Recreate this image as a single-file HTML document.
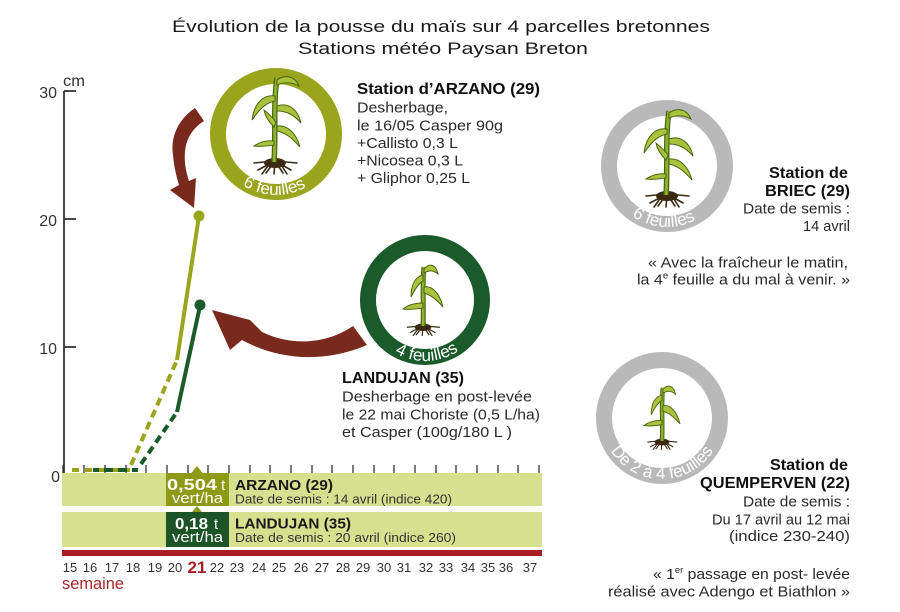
<!DOCTYPE html>
<html><head><meta charset="utf-8"><style>
html,body{margin:0;padding:0;background:#fff;}
svg{display:block;}
text{font-family:"Liberation Sans",sans-serif;}
</style></head><body>
<svg width="900" height="612" viewBox="0 0 900 612" xmlns="http://www.w3.org/2000/svg">
<defs>
 <g id="roots">
  <g stroke="#3a2a14" stroke-width="1.6" fill="none" stroke-linecap="round">
   <path d="M0,1 L-21,3 M0,1 L-17,10 M0,1 L-9,13 M0,1 L-1,14 M0,1 L8,13 M0,1 L16,10 M0,1 L22,3 M-5,3 L-13,14 M5,3 L12,14"/>
  </g>
  <ellipse cx="0" cy="3" rx="11" ry="5" fill="#3a2a14"/>
 </g>
 <g id="bigplant">
  <use href="#roots"/>
  <path d="M-1,2 C1,-25 -2,-55 2,-82" stroke="#4a6812" stroke-width="5.5" fill="none"/>
  <path d="M-1,2 C1,-25 -2,-55 2,-82" stroke="#8db12e" stroke-width="3" fill="none"/>
  <g fill="#a9c33d" stroke="#4a6410" stroke-width="1">
   <path d="M2,-80 C10,-86 20,-84 24,-74 C17,-78 9,-78 2,-75 Z"/>
   <path d="M0,-64 C-12,-66 -21,-56 -23,-40 C-16,-50 -10,-57 0,-59 Z"/>
   <path d="M2,-54 C14,-58 23,-50 26,-37 C19,-45 12,-49 2,-49 Z"/>
   <path d="M-1,-33 C-6,-38 -10,-44 -11,-50 C-6,-46 -2,-42 1,-38 Z"/>
   <path d="M2,-34 C13,-35 21,-27 25,-13 C17,-22 11,-27 2,-29 Z"/>
   <path d="M-1,-19 C-8,-20 -15,-18 -21,-14 C-14,-13 -8,-14 -1,-15 Z"/>
  </g>
 </g>
 <g id="smallplant">
  <use href="#roots" transform="scale(0.75)"/>
  <path d="M0,1 C1,-20 -1,-40 1,-58" stroke="#4a6812" stroke-width="5" fill="none"/>
  <path d="M0,1 C1,-20 -1,-40 1,-58" stroke="#8db12e" stroke-width="2.6" fill="none"/>
  <g fill="#a9c33d" stroke="#4a6410" stroke-width="1">
   <path d="M1,-56 C7,-63 13,-60 15,-51 C10,-55 6,-55 1,-52 Z"/>
   <path d="M0,-50 C-8,-48 -12,-40 -12,-28 C-8,-36 -4,-42 0,-44 Z"/>
   <path d="M1,-38 C10,-40 17,-30 20,-18 C14,-25 8,-30 1,-32 Z"/>
   <path d="M0,-22 C-8,-22 -15,-20 -20,-16 C-13,-15 -7,-16 0,-17 Z"/>
  </g>
 </g>
 <path id="arcA" d="M215,134 A61,61 0 0 0 337,134" fill="none"/>
 <path id="arcL" d="M364,300 A61,61 0 0 0 486,300" fill="none"/>
 <path id="arcB" d="M606,166 A61,61 0 0 0 728,166" fill="none"/>
 <path id="arcQ" d="M601,418 A61,61 0 0 0 723,418" fill="none"/>
</defs>

<!-- Title -->
<text x="172" y="32" font-size="17" fill="#1a1a1a" textLength="538" lengthAdjust="spacingAndGlyphs">Évolution de la pousse du maïs sur 4 parcelles bretonnes</text>
<text x="298" y="54" font-size="17" fill="#1a1a1a" textLength="290" lengthAdjust="spacingAndGlyphs">Stations météo Paysan Breton</text>

<!-- Y axis -->
<line x1="64" y1="91" x2="64" y2="473" stroke="#333" stroke-width="1.8"/>
<g stroke="#333" stroke-width="1.8">
 <line x1="64" y1="91" x2="76" y2="91"/>
 <line x1="64" y1="219" x2="76" y2="219"/>
 <line x1="64" y1="347" x2="76" y2="347"/>
</g>
<g font-size="16" fill="#333" text-anchor="end">
 <text x="57" y="98">30</text>
 <text x="57" y="226">20</text>
 <text x="57" y="354">10</text>
 <text x="60" y="482">0</text>
</g>
<text x="63" y="86" font-size="16" fill="#333" textLength="22" lengthAdjust="spacingAndGlyphs">cm</text>

<!-- X ticks -->
<g stroke="#333" stroke-width="1.3">
 <line x1="63" y1="465" x2="63" y2="473"/><line x1="84" y1="465" x2="84" y2="473"/>
 <line x1="105" y1="465" x2="105" y2="473"/><line x1="126" y1="465" x2="126" y2="473"/>
 <line x1="146" y1="465" x2="146" y2="473"/><line x1="167" y1="465" x2="167" y2="473"/>
 <line x1="188" y1="465" x2="188" y2="473"/><line x1="208" y1="465" x2="208" y2="473"/>
 <line x1="229" y1="465" x2="229" y2="473"/><line x1="250" y1="465" x2="250" y2="473"/>
 <line x1="270" y1="465" x2="270" y2="473"/><line x1="291" y1="465" x2="291" y2="473"/>
 <line x1="312" y1="465" x2="312" y2="473"/><line x1="332" y1="465" x2="332" y2="473"/>
 <line x1="353" y1="465" x2="353" y2="473"/><line x1="374" y1="465" x2="374" y2="473"/>
 <line x1="394" y1="465" x2="394" y2="473"/><line x1="415" y1="465" x2="415" y2="473"/>
 <line x1="436" y1="465" x2="436" y2="473"/><line x1="456" y1="465" x2="456" y2="473"/>
 <line x1="477" y1="465" x2="477" y2="473"/><line x1="498" y1="465" x2="498" y2="473"/>
 <line x1="518" y1="465" x2="518" y2="473"/><line x1="539" y1="465" x2="539" y2="473"/>
</g>

<!-- Bands -->
<rect x="62" y="473" width="480" height="33" fill="#d6e08f"/>
<rect x="62" y="512" width="480" height="35" fill="#d6e08f"/>
<rect x="62" y="550" width="480" height="6" fill="#a81e23"/>
<rect x="166" y="473" width="63" height="33" fill="#8e9a16"/>
<polygon points="191,473.5 197,466 203,473.5" fill="#8e9a16"/>
<rect x="166" y="512" width="63" height="35" fill="#1c5428"/>
<polygon points="192,512 197,506 202,512" fill="#8e9a16"/>

<g fill="#fff">
 <text x="167" y="490" font-size="16" font-weight="bold" textLength="50" lengthAdjust="spacingAndGlyphs">0,504</text>
 <text x="221" y="490" font-size="15">t</text>
 <text x="172" y="503" font-size="15" textLength="51" lengthAdjust="spacingAndGlyphs">vert/ha</text>
 <text x="175" y="529" font-size="16" font-weight="bold" textLength="33" lengthAdjust="spacingAndGlyphs">0,18</text>
 <text x="214" y="529" font-size="15">t</text>
 <text x="172" y="542" font-size="15" textLength="51" lengthAdjust="spacingAndGlyphs">vert/ha</text>
</g>
<g fill="#1a1a1a">
 <text x="235" y="490" font-size="15" font-weight="bold" textLength="98" lengthAdjust="spacingAndGlyphs">ARZANO (29)</text>
 <text x="235" y="503.5" font-size="13" fill="#333" textLength="217" lengthAdjust="spacingAndGlyphs">Date de semis : 14 avril (indice 420)</text>
 <text x="235" y="528.5" font-size="15" font-weight="bold" textLength="116" lengthAdjust="spacingAndGlyphs">LANDUJAN (35)</text>
 <text x="235" y="542" font-size="13" fill="#333" textLength="221" lengthAdjust="spacingAndGlyphs">Date de semis : 20 avril (indice 260)</text>
</g>

<!-- Week labels -->
<g font-size="13" fill="#333" text-anchor="middle">
 <text x="70" y="572">15</text><text x="90" y="572">16</text><text x="112" y="572">17</text>
 <text x="133" y="572">18</text><text x="155" y="572">19</text><text x="175" y="572">20</text>
 <text x="217" y="572">22</text><text x="237" y="572">23</text>
 <text x="259" y="572">24</text><text x="279" y="572">25</text><text x="301" y="572">26</text>
 <text x="322" y="572">27</text><text x="343" y="572">28</text><text x="363" y="572">29</text>
 <text x="384" y="572">30</text><text x="404" y="572">31</text><text x="426" y="572">32</text>
 <text x="446" y="572">33</text><text x="468" y="572">34</text><text x="488" y="572">35</text>
 <text x="506" y="572">36</text><text x="530" y="572">37</text>
</g>
<text x="197" y="573" font-size="17" font-weight="bold" fill="#a81e23" text-anchor="middle">21</text>
<text x="62" y="589" font-size="17" fill="#a8282a" textLength="62" lengthAdjust="spacingAndGlyphs">semaine</text>

<!-- Series -->
<g fill="none" stroke-width="4">
 <path d="M72,470 L130,470" stroke="#9aa41d" stroke-dasharray="7,6"/>
 <path d="M93,470 L138,470" stroke="#1b5a2b" stroke-dasharray="9,5" stroke-dashoffset="3"/>
 <path d="M131,465 L177,360" stroke="#9aa41d" stroke-dasharray="8,5"/>
 <path d="M141,464 L177,412" stroke="#1b5a2b" stroke-dasharray="8,5"/>
 <path d="M177,360 L199,216" stroke="#9aa41d"/>
 <path d="M177,412 L200,306" stroke="#1b5a2b"/>
</g>
<circle cx="199" cy="216" r="5.5" fill="#9aa41d"/>
<circle cx="200" cy="305" r="5.5" fill="#1b5a2b"/>

<!-- Arrows -->
<path d="M195,108 C180,118 170,135 173,155 C174,168 177,178 179,185 L170,190 L194,208 L196,178 L189,181 C186,172 184,162 185,152 C186,138 193,128 204,121 Z" fill="#7a2a1c"/>
<path d="M353,326 C330,342 295,348 262,332 L250,320 L212,310 L230,350 L242,340 C275,358 320,365 367,345 Z" fill="#7a2a1c"/>

<!-- Circles -->
<circle cx="276" cy="134" r="58" fill="#fff" stroke="#9aa41d" stroke-width="16"/>
<circle cx="425" cy="300" r="57" fill="#fff" stroke="#1b5a2b" stroke-width="16"/>
<circle cx="667" cy="166" r="58" fill="#fff" stroke="#b9b9b9" stroke-width="16"/>
<circle cx="662" cy="418" r="58" fill="#fff" stroke="#b9b9b9" stroke-width="16"/>

<use href="#bigplant" transform="translate(275,160)"/>
<use href="#smallplant" transform="translate(423,325)"/>
<use href="#bigplant" transform="translate(667,193)"/>
<use href="#smallplant" transform="translate(662,440) scale(0.9)"/>

<g font-size="17" fill="#fff">
 <text><textPath href="#arcA" startOffset="49%" text-anchor="middle">6 feuilles</textPath></text>
 <text><textPath href="#arcL" startOffset="51%" text-anchor="middle">4 feuilles</textPath></text>
 <text><textPath href="#arcB" startOffset="48%" text-anchor="middle">6 feuilles</textPath></text>
 <text><textPath href="#arcQ" startOffset="50%" text-anchor="middle">De 2 à 4 feuilles</textPath></text>
</g>

<!-- ARZANO text -->
<text x="357" y="94" font-size="16" font-weight="bold" fill="#111" textLength="183" lengthAdjust="spacingAndGlyphs">Station d’ARZANO (29)</text>
<g font-size="15" fill="#2a2a2a">
 <text x="357" y="112.5" textLength="91" lengthAdjust="spacingAndGlyphs">Desherbage,</text>
 <text x="357" y="130.5" textLength="146" lengthAdjust="spacingAndGlyphs">le 16/05 Casper 90g</text>
 <text x="357" y="148" textLength="101" lengthAdjust="spacingAndGlyphs">+Callisto 0,3 L</text>
 <text x="357" y="165.5" textLength="106" lengthAdjust="spacingAndGlyphs">+Nicosea 0,3 L</text>
 <text x="357" y="183" textLength="113" lengthAdjust="spacingAndGlyphs">+ Gliphor 0,25 L</text>
</g>

<!-- LANDUJAN text -->
<text x="342" y="383" font-size="16" font-weight="bold" fill="#111" textLength="122" lengthAdjust="spacingAndGlyphs">LANDUJAN (35)</text>
<g font-size="15" fill="#2a2a2a">
 <text x="342" y="401.5" textLength="190" lengthAdjust="spacingAndGlyphs">Desherbage en post-levée</text>
 <text x="342" y="419.5" textLength="198" lengthAdjust="spacingAndGlyphs">le 22 mai Choriste (0,5 L/ha)</text>
 <text x="342" y="437" textLength="170" lengthAdjust="spacingAndGlyphs">et Casper (100g/180 L )</text>
</g>

<!-- BRIEC text -->
<text x="769" y="178" font-size="16" font-weight="bold" fill="#111" textLength="79" lengthAdjust="spacingAndGlyphs">Station de</text>
<text x="765" y="196" font-size="16" font-weight="bold" fill="#111" textLength="85" lengthAdjust="spacingAndGlyphs">BRIEC (29)</text>
<g font-size="15" fill="#2a2a2a">
 <text x="743" y="213.5" textLength="107" lengthAdjust="spacingAndGlyphs">Date de semis :</text>
 <text x="803" y="231" textLength="47" lengthAdjust="spacingAndGlyphs">14 avril</text>
 <text x="648" y="267.5" textLength="200" lengthAdjust="spacingAndGlyphs">« Avec la fraîcheur le matin,</text>
 <text x="637" y="284.5" textLength="213" lengthAdjust="spacingAndGlyphs">la 4<tspan font-size="9" dy="-6">e</tspan><tspan dy="6"> feuille a du mal à venir. »</tspan></text>
</g>

<!-- QUEMPERVEN text -->
<text x="770" y="470" font-size="16" font-weight="bold" fill="#111" textLength="78" lengthAdjust="spacingAndGlyphs">Station de</text>
<text x="700" y="488" font-size="16" font-weight="bold" fill="#111" textLength="150" lengthAdjust="spacingAndGlyphs">QUEMPERVEN (22)</text>
<g font-size="15" fill="#2a2a2a">
 <text x="743" y="506.5" textLength="107" lengthAdjust="spacingAndGlyphs">Date de semis :</text>
 <text x="712" y="524.5" textLength="138" lengthAdjust="spacingAndGlyphs">Du 17 avril au 12 mai</text>
 <text x="729" y="541" textLength="121" lengthAdjust="spacingAndGlyphs">(indice 230-240)</text>
 <text x="653" y="579" textLength="197" lengthAdjust="spacingAndGlyphs">« 1<tspan font-size="9" dy="-6">er</tspan><tspan dy="6"> passage en post- levée</tspan></text>
 <text x="608" y="596.5" textLength="242" lengthAdjust="spacingAndGlyphs">réalisé avec Adengo et Biathlon »</text>
</g>
</svg>
</body></html>
